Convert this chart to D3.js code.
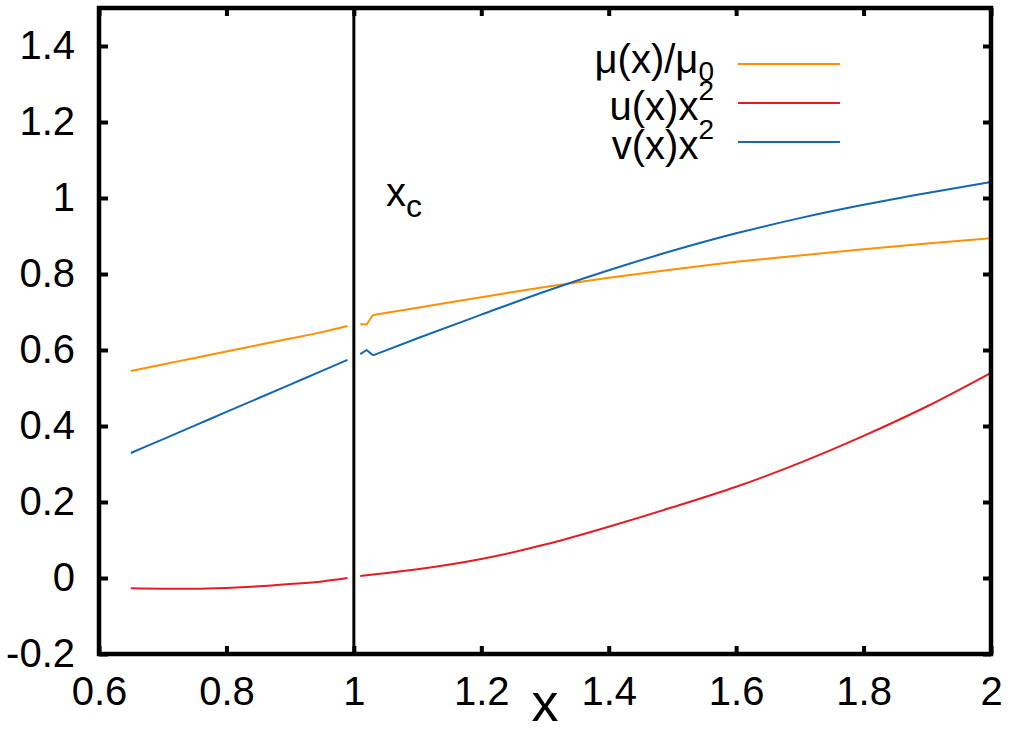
<!DOCTYPE html>
<html>
<head>
<meta charset="utf-8">
<script src="https://cdn.jsdelivr.net/npm/d3@7"></script>
<style>
  html, body { margin: 0; padding: 0; background: #fff; }
  svg text { font-family: "Liberation Sans", Arial, sans-serif; fill: #000; }
</style>
</head>
<body>
<svg id="chart" width="1011" height="733"></svg>
<script>
  // ---- data ----
  const xTicks = [0.6, 0.8, 1, 1.2, 1.4, 1.6, 1.8, 2];
  const yTicks = [-0.2, 0, 0.2, 0.4, 0.6, 0.8, 1, 1.2, 1.4];
  const xCrit = 1.0;

  // left branch (x < x_c)
  const xLeft  = [0.65, 0.70, 0.75, 0.80, 0.85, 0.90, 0.95, 0.99];
  const muLeft = [0.545, 0.562, 0.579, 0.596, 0.613, 0.630, 0.647, 0.663];
  const uLeft  = [-0.027, -0.028, -0.028, -0.026, -0.022, -0.016, -0.009, 0.0];
  const vLeft  = [0.329, 0.365, 0.401, 0.437, 0.473, 0.509, 0.545, 0.574];

  // right branch (x > x_c); first three points are the jagged start
  const xRight  = [1.01, 1.02, 1.03, 1.1, 1.2, 1.3, 1.4, 1.5, 1.6, 1.7, 1.8, 1.9, 2.0];
  const muRight = [0.668, 0.667, 0.692, 0.711, 0.739, 0.766, 0.790, 0.812, 0.832, 0.849, 0.865, 0.880, 0.894];
  const uRight  = [0.005, 0.007, 0.009, 0.023, 0.050, 0.088, 0.135, 0.186, 0.240, 0.303, 0.374, 0.452, 0.540];
  const vRight  = [0.589, 0.600, 0.586, 0.631, 0.693, 0.754, 0.810, 0.861, 0.907, 0.947, 0.982, 1.013, 1.042];
  const kinkEnd = 2; // index where the smooth part begins

  const series = [
    { name: "mu", color: "#ff9000", left: muLeft, right: muRight },
    { name: "u",  color: "#e41c23", left: uLeft,  right: uRight },
    { name: "v",  color: "#1467b0", left: vLeft,  right: vRight }
  ];

  const svg = d3.select("#chart");
  const L = 99, R = 991, T = 8, B = 654;

  const x = d3.scaleLinear().domain([0.6, 2]).range([L, R]);
  const y = d3.scaleLinear().domain([-0.2, 1.5]).range([B, T]);

  // curves
  const smooth = d3.line().x(d => x(d[0])).y(d => y(d[1])).curve(d3.curveMonotoneX);
  const sharp = d3.line().x(d => x(d[0])).y(d => y(d[1]));
  const curves = svg.append("g").attr("class", "curves");
  series.forEach(s => {
    const left = xLeft.map((v, i) => [v, s.left[i]]);
    const right = xRight.map((v, i) => [v, s.right[i]]);
    const parts = [
      [left, smooth],
      [right.slice(0, kinkEnd + 1), sharp],
      [right.slice(kinkEnd), smooth]
    ];
    parts.forEach(([pts, gen]) => {
      curves.append("path")
        .datum(pts)
        .attr("d", gen)
        .attr("fill", "none")
        .attr("stroke", s.color)
        .attr("stroke-width", 2)
        .attr("stroke-linejoin", "round");
    });
  });

  // vertical line at x_c
  svg.append("line")
    .attr("x1", x(xCrit)).attr("x2", x(xCrit))
    .attr("y1", T).attr("y2", B)
    .attr("stroke", "#000").attr("stroke-width", 3);

  const xc = svg.append("text")
    .attr("x", 386).attr("y", 206)
    .attr("font-size", 40);
  xc.append("tspan").text("x");
  xc.append("tspan").attr("font-size", 32).attr("dy", 11).text("c");

  // axes (ticks pointing inwards, mirrored)
  const gx = svg.append("g")
    .attr("transform", `translate(0,${B})`)
    .call(d3.axisBottom(x).tickValues(xTicks).tickSize(-8).tickPadding(23)
      .tickFormat(d3.format("")));
  const gy = svg.append("g")
    .attr("transform", `translate(${L},0)`)
    .call(d3.axisLeft(y).tickValues(yTicks).tickSize(-9).tickPadding(24)
      .tickFormat(d3.format("")));
  const gx2 = svg.append("g")
    .attr("transform", `translate(0,${T})`)
    .call(d3.axisTop(x).tickValues(xTicks).tickSize(-8).tickFormat(""));
  const gy2 = svg.append("g")
    .attr("transform", `translate(${R},0)`)
    .call(d3.axisRight(y).tickValues(yTicks).tickSize(-8).tickFormat(""));

  [gx, gy, gx2, gy2].forEach(g => {
    g.select(".domain").remove();
    g.selectAll(".tick line").attr("stroke", "#000").attr("stroke-width", 4);
    g.selectAll(".tick text")
      .attr("font-size", 40)
      .attr("font-family", "Liberation Sans, Arial, sans-serif")
      .attr("fill", "#000");
  });
  gy.selectAll(".tick text").text(d => d3.format("")(d).replace("−", "-"));

  // frame
  svg.append("rect")
    .attr("x", L).attr("y", T)
    .attr("width", R - L).attr("height", B - T)
    .attr("fill", "none").attr("stroke", "#000").attr("stroke-width", 4.5);

  // axis label
  svg.append("text")
    .attr("x", 545).attr("y", 721)
    .attr("text-anchor", "middle")
    .attr("font-size", 54)
    .text("x");

  // legend
  const legend = svg.append("g").attr("class", "legend");
  const legendRows = [
    { color: series[0].color, ly: 64, base: 73, parts: [["μ(x)/μ", 0], ["0", 8]] },
    { color: series[1].color, ly: 103, base: 120, parts: [["u(x)x", 0], ["2", -20]] },
    { color: series[2].color, ly: 142, base: 159, parts: [["v(x)x", 0], ["2", -20]] }
  ];
  legendRows.forEach(r => {
    const t = legend.append("text")
      .attr("x", 714).attr("y", r.base)
      .attr("text-anchor", "end")
      .attr("font-size", 40);
    let prev = 0;
    r.parts.forEach(([txt, shift]) => {
      t.append("tspan")
        .attr("dy", shift - prev)
        .attr("font-size", shift === 0 ? 40 : 28)
        .text(txt);
      prev = shift;
    });
    legend.append("line")
      .attr("x1", 738).attr("x2", 840)
      .attr("y1", r.ly).attr("y2", r.ly)
      .attr("stroke", r.color).attr("stroke-width", 2);
  });
</script>
</body>
</html>
